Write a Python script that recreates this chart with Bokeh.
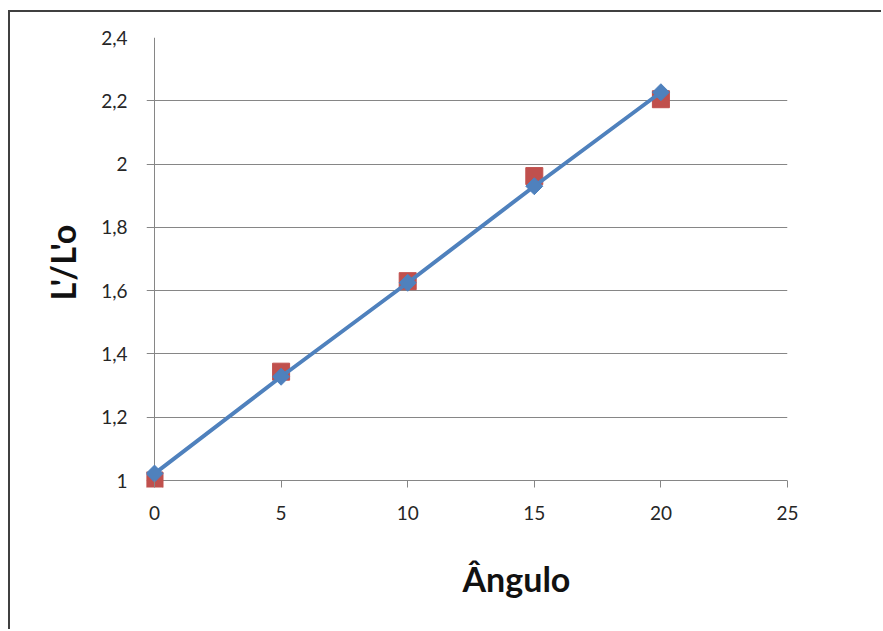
from bokeh.plotting import figure
from bokeh.models import Range1d, FixedTicker, CustomJSTickFormatter, Title
from bokeh.embed import file_html
from bokeh.resources import INLINE

# data
angles = [0, 5, 10, 15, 20]
measured = [1.00, 1.344, 1.63, 1.962, 2.205]      # red squares
fitted = [1.022, 1.328, 1.625, 1.93, 2.227]        # blue diamonds + line
x_ticks = [0, 5, 10, 15, 20, 25]
y_ticks = [1.0, 1.2, 1.4, 1.6, 1.8, 2.0, 2.2, 2.4]
x_axis_at = [0]
x_label = "Ângulo"
y_label = "L'/L'o"

RED = "#C0504D"
BLUE = "#4F81BD"
GRID = "#868686"
TXT = "#262626"
FONT = "Lato"

p = figure(width=873, height=619, output_backend="svg", toolbar_location=None,
           x_range=Range1d(-0.316, 25), y_range=Range1d(0.978, 2.4),
           min_border_left=136, min_border_right=96, min_border_top=25,
           min_border_bottom=143)
p.styles = {"margin-left": "10px", "margin-top": "12px",
            "box-shadow": "-2px -2px 0px 0px #404040"}
p.outline_line_color = None
p.background_fill_color = "white"
p.border_fill_color = "white"

# vertical axis line at x = 0 (extends below like the 0 tick)
p.xgrid.ticker = FixedTicker(ticks=x_axis_at)
p.xgrid.grid_line_color = GRID
p.xgrid.grid_line_width = 1
# horizontal grid (its left overhang acts as the y ticks, y=1 line is the x axis)
p.ygrid.ticker = FixedTicker(ticks=y_ticks)
p.ygrid.grid_line_color = GRID
p.ygrid.grid_line_width = 1

xa = p.xaxis[0]
xa.ticker = FixedTicker(ticks=x_ticks)
xa.axis_line_color = None
xa.major_tick_line_color = GRID
xa.major_tick_out = 0
xa.major_tick_in = 7
xa.minor_tick_line_color = None
xa.major_label_text_font = FONT
xa.major_label_text_font_size = "19px"
xa.major_label_text_color = TXT
xa.major_label_standoff = 18

ya = p.yaxis[0]
ya.ticker = FixedTicker(ticks=y_ticks)
ya.formatter = CustomJSTickFormatter(code="var s=(Math.round(tick*10)/10).toString(); return s.replace('.', ',');")
ya.axis_line_color = None
ya.major_tick_line_color = None
ya.minor_tick_line_color = None
ya.major_label_text_font = FONT
ya.major_label_text_font_size = "19px"
ya.major_label_text_color = TXT
ya.major_label_standoff = 13
ya.axis_label = y_label
ya.axis_label_text_font = FONT
ya.axis_label_text_font_size = "34px"
ya.axis_label_text_font_style = "bold"
ya.axis_label_text_color = "#111111"
ya.axis_label_standoff = 15

t = Title(text=x_label, align="left", offset=316, text_font=FONT,
          text_font_size="34px", text_font_style="bold", text_color="#111111",
          standoff=66)
p.add_layout(t, "below")

p.scatter(angles, measured, marker="square", size=17, fill_color=RED,
          line_color=RED)
p.line(angles, fitted, line_color=BLUE, line_width=4)
p.scatter(angles, fitted, marker="square", angle=0.785398, size=12,
          fill_color=BLUE, line_color=BLUE)

open("out.html", "w").write(file_html(p, INLINE))
